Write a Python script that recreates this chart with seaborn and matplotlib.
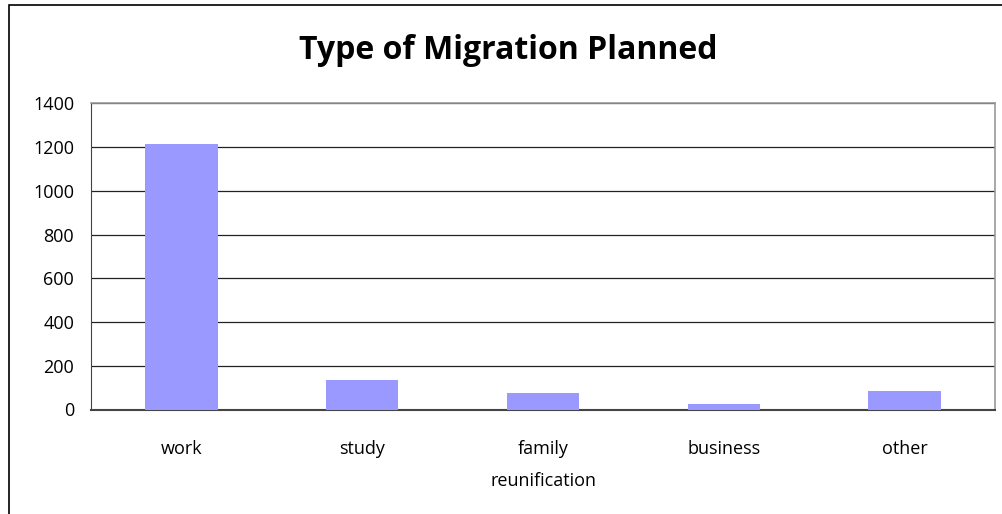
import matplotlib
matplotlib.use("Agg")
import matplotlib.pyplot as plt
import seaborn as sns
import pandas as pd
from matplotlib.patches import Rectangle

categories = ["work", "study", "family\nreunification", "business", "other"]
counts = [1216, 136, 76, 25, 85]

df = pd.DataFrame({"type": categories, "count": counts})

sns.set_style("white")
plt.rcParams["font.family"] = ["Open Sans", "DejaVu Sans"]
plt.rcParams["text.color"] = "black"
plt.rcParams["xtick.color"] = "black"
plt.rcParams["ytick.color"] = "black"

fig = plt.figure(figsize=(10.03, 5.14), dpi=100)
ax = fig.add_axes([91 / 1003, 1 - 409.5 / 514, (995 - 91) / 1003, (409.5 - 103.3) / 514])

sns.barplot(data=df, x="type", y="count", color="#9999FF", width=0.4,
            saturation=1, linewidth=0, edgecolor="none", ax=ax, zorder=3)

ax.set_ylim(0, 1400)
ax.set_xlim(-0.5, len(categories) - 0.5)
ax.set_yticks(range(0, 1401, 200))
ax.yaxis.grid(True, color="#222222", linewidth=0.9, zorder=0)
ax.set_axisbelow(True)

ax.set_xlabel("")
ax.set_ylabel("")
ax.tick_params(axis="x", length=0, pad=22, labelsize=13, labelcolor="black")
ax.tick_params(axis="y", length=3.6, width=1, color="#444444", direction="out",
               labelsize=13, pad=8.5, labelcolor="black")
ax.set_xticks([i - 0.5 for i in range(len(categories) + 1)], minor=True)
ax.tick_params(axis="x", which="minor", length=5, width=1, color="#444444",
               direction="out")
for lbl in ax.get_xticklabels():
    lbl.set_linespacing(2.0)
    lbl.set_verticalalignment("top")

for side in ["top", "right"]:
    ax.spines[side].set_color("#999999")
    ax.spines[side].set_linewidth(1.2)
ax.spines["left"].set_color("#444444")
ax.spines["bottom"].set_color("#444444")
ax.spines["bottom"].set_linewidth(1.5)

fig.text(508 / 1003, 1 - 59 / 514, "Type of Migration Planned", ha="center",
         va="baseline", fontsize=23, fontweight="bold")

fig.patches.append(Rectangle((9 / 1003, -0.1), 1.2, 1 - 5 / 514 + 0.1,
                             transform=fig.transFigure, fill=False,
                             edgecolor="black", linewidth=1.2))

fig.savefig("out.png", dpi=100)
plt.close(fig)
